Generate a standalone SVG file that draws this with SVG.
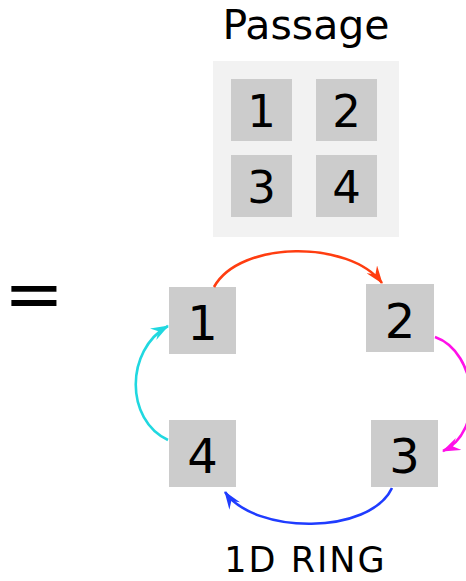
<svg xmlns="http://www.w3.org/2000/svg" width="466" height="581" viewBox="0 0 466 581">
<style>
text{font-family:"DejaVu Sans","Noto Sans",sans-serif;fill:#000;text-anchor:middle}
.sq{fill:#cccccc}
.d1{font-size:45px}
.d2{font-size:48px}
.c{fill:none;stroke-width:2.6}
</style>
<defs>
<marker id="mr" viewBox="0 0 18 13" markerWidth="18" markerHeight="13" refX="17" refY="6.5" orient="auto" markerUnits="userSpaceOnUse"><path d="M0,0 L18,6.5 L0,13 L6,6.5 z" fill="#ff3d10"/></marker>
<marker id="mm" viewBox="0 0 18 13" markerWidth="18" markerHeight="13" refX="17" refY="6.5" orient="auto" markerUnits="userSpaceOnUse"><path d="M0,0 L18,6.5 L0,13 L6,6.5 z" fill="#ff10e8"/></marker>
<marker id="mc" viewBox="0 0 18 13" markerWidth="18" markerHeight="13" refX="17" refY="6.5" orient="auto" markerUnits="userSpaceOnUse"><path d="M0,0 L18,6.5 L0,13 L6,6.5 z" fill="#20d8e0"/></marker>
<marker id="mb" viewBox="0 0 18 13" markerWidth="18" markerHeight="13" refX="17" refY="6.5" orient="auto" markerUnits="userSpaceOnUse"><path d="M0,0 L18,6.5 L0,13 L6,6.5 z" fill="#1f3cff"/></marker>
</defs>
<rect width="466" height="581" fill="#fff"/>
<g id="passage">
<text x="306" y="39" style="font-size:41px">Passage</text>
<rect x="213" y="61" width="186" height="176" fill="#f2f2f2"/>
<g id="p1"><rect class="sq" x="231" y="79" width="61" height="62"/><text class="d1" x="261.5" y="127">1</text></g>
<g id="p2"><rect class="sq" x="316" y="79" width="61" height="62"/><text class="d1" x="346.5" y="127">2</text></g>
<g id="p3"><rect class="sq" x="231" y="155" width="61" height="62"/><text class="d1" x="261.5" y="203">3</text></g>
<g id="p4"><rect class="sq" x="316" y="155" width="61" height="62"/><text class="d1" x="346.5" y="203">4</text></g>
</g>
<g id="equals"><text x="34" y="318" style="font-size:72px">=</text></g>
<g id="n1"><rect class="sq" x="169" y="287" width="67" height="67"/><text class="d2" x="202.5" y="340">1</text></g>
<g id="n2"><rect class="sq" x="366" y="284" width="68" height="68"/><text class="d2" x="400" y="338">2</text></g>
<g id="n3"><rect class="sq" x="371" y="420" width="67" height="67"/><text class="d2" x="404.5" y="473">3</text></g>
<g id="n4"><rect class="sq" x="169" y="420" width="67" height="67"/><text class="d2" x="202.5" y="473">4</text></g>
<g id="connectors">
<path class="c" stroke="#ff3d10" d="M214,287 C240,240 350,240 382,283" marker-end="url(#mr)"/>
<path class="c" stroke="#ff10e8" d="M435,337 C478,352 485,432 443,451" marker-end="url(#mm)"/>
<path class="c" stroke="#20d8e0" d="M168,440 C125,420 125,350 168,326" marker-end="url(#mc)"/>
<path class="c" stroke="#1f3cff" d="M392,488 C370,535 255,535 225,492" marker-end="url(#mb)"/>
</g>
<g id="label"><text x="305.5" y="572" style="font-size:35px;letter-spacing:2px">1D RING</text></g>
</svg>
